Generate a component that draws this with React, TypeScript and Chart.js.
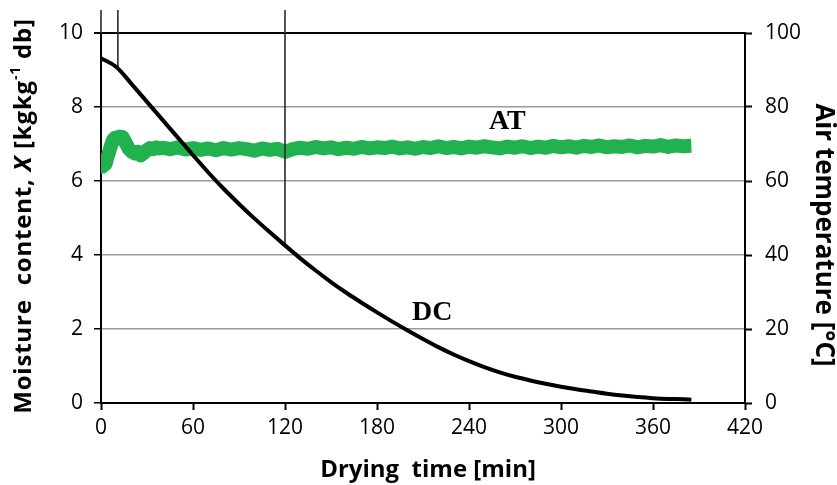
import React, { useEffect, useRef } from "react";
import { Chart, registerables } from "chart.js";
Chart.register(...registerables);

// Drying curve (moisture content, kg/kg db) vs time (min)
const dcTime = [0, 10, 20, 30, 40, 50, 60, 70, 80, 90, 100, 110, 120, 130, 140, 150, 160, 170, 180, 190, 200, 210, 220, 230, 240, 250, 260, 270, 280, 290, 300, 310, 320, 330, 340, 350, 360, 370, 380, 385];
const dcMoisture = [9.32, 9.08, 8.62, 8.14, 7.66, 7.18, 6.7, 6.23, 5.79, 5.38, 4.99, 4.62, 4.26, 3.91, 3.58, 3.27, 2.98, 2.71, 2.45, 2.2, 1.96, 1.73, 1.51, 1.31, 1.13, 0.97, 0.83, 0.71, 0.61, 0.52, 0.44, 0.37, 0.31, 0.25, 0.2, 0.16, 0.13, 0.11, 0.1, 0.09];

// Air temperature (°C) vs time (min)
const atTime = [0, 1, 2, 3, 4, 5, 6, 7, 8, 9, 10, 11, 12, 13, 14, 15, 16, 17, 18, 19, 20, 22, 24, 26, 28, 30, 32, 34, 36, 38, 40, 45, 50, 55, 60, 65, 70, 75, 80, 85, 90, 95, 100, 105, 110, 115, 120, 125, 130, 135, 140, 145, 150, 155, 160, 165, 170, 175, 180, 185, 190, 195, 200, 205, 210, 215, 220, 225, 230, 235, 240, 245, 250, 255, 260, 265, 270, 275, 280, 285, 290, 295, 300, 305, 310, 315, 320, 325, 330, 335, 340, 345, 350, 355, 360, 365, 370, 375, 380, 385];
const atTemp = [64.8, 63.9, 65.6, 64.6, 66.2, 67.4, 68.9, 70.1, 71.2, 71.6, 71.3, 71.8, 72.0, 71.6, 71.9, 71.2, 70.4, 69.6, 68.8, 68.3, 67.9, 67.4, 67.9, 66.9, 67.6, 68.4, 68.9, 68.6, 69.1, 68.8, 69.0, 68.6, 69.1, 68.5, 68.9, 68.4, 68.8, 68.3, 68.9, 68.5, 68.9, 68.6, 68.2, 68.8, 68.4, 68.7, 67.9, 68.6, 69.0, 68.7, 69.2, 68.8, 69.1, 68.6, 69.0, 68.7, 69.2, 68.8, 69.1, 68.9, 69.3, 68.8, 69.1, 68.7, 69.2, 68.9, 69.4, 68.9, 69.2, 68.8, 69.3, 69.0, 69.4, 69.1, 68.8, 69.3, 69.0, 69.4, 68.9, 69.3, 69.0, 69.5, 69.1, 69.4, 69.0, 69.5, 69.2, 69.6, 69.1, 69.4, 69.2, 69.6, 69.1, 69.5, 69.3, 69.7, 69.2, 69.6, 69.4, 69.5];

// Vertical marker lines (time, lower end in moisture units), all rising to dropTop
const dropTime = [0, 11, 120];
const dropFrom = [10, 9.05, 4.26];
const dropTop = 10.62;

// Curve labels
const labelText = ["AT", "DC"];
const labelTime = [265, 216];
const labelMoisture = [7.6, 2.43];

const xTitle = "Drying  time [min]";
const yRightTitle = "Air temperature [°C]";

const SANS = "'Open Sans', sans-serif";

const overlay = {
  id: "overlay",
  afterDraw(chart: any) {
    const ctx = chart.ctx as CanvasRenderingContext2D;
    const xs = chart.scales.x;
    const ys = chart.scales.y;
    const area = chart.chartArea;
    ctx.save();
    ctx.fillStyle = "#000";
    // curve labels
    ctx.font = "bold 28px 'Liberation Serif', serif";
    ctx.textAlign = "center";
    ctx.textBaseline = "middle";
    labelText.forEach((t, i) => {
      ctx.fillText(t, xs.getPixelForValue(labelTime[i]), ys.getPixelForValue(labelMoisture[i]));
    });

    // x title
    ctx.font = `bold 24px ${SANS}`;
    ctx.fillText(xTitle, (area.left + area.right) / 2 + 5, 470);

    // right title
    ctx.save();
    ctx.translate(823, (area.top + area.bottom) / 2 + 17);
    ctx.rotate(Math.PI / 2);
    ctx.font = `bold 26px ${SANS}`;
    ctx.fillText(yRightTitle, 0, 0);
    ctx.restore();

    // left title with italic X and superscript
    const bold = `bold 24px ${SANS}`;
    const segs = [
      { t: "Moisture  content, ", f: bold, dy: 0 },
      { t: "X", f: `italic bold 24px ${SANS}`, dy: 0 },
      { t: " [kgkg", f: bold, dy: 0 },
      { t: "-1", f: `bold 14px ${SANS}`, dy: -8 },
      { t: " db]", f: bold, dy: 0 },
    ];
    (ctx as any).letterSpacing = "0.8px";
    let total = 0;
    const widths = segs.map((s) => {
      ctx.font = s.f;
      const w = ctx.measureText(s.t).width;
      total += w;
      return w;
    });
    ctx.save();
    ctx.translate(24, (area.top + area.bottom) / 2 - 2);
    ctx.rotate(-Math.PI / 2);
    ctx.textAlign = "left";
    let x = -total / 2;
    segs.forEach((s, i) => {
      ctx.font = s.f;
      ctx.fillText(s.t, x, s.dy);
      x += widths[i];
    });
    ctx.restore();
    (ctx as any).letterSpacing = "0px";
    ctx.restore();
  },
};

export default function App() {
  const ref = useRef<HTMLCanvasElement>(null);
  useEffect(() => {
    if (!ref.current) return;
    const dropSets = dropTime.map((t, i) => ({
      type: "line" as const,
      data: [
        { x: t, y: dropFrom[i] },
        { x: t, y: dropTop },
      ],
      yAxisID: "y",
      borderColor: "#2a2a2a",
      borderWidth: 1.6,
      pointRadius: 0,
      clip: false as any,
      order: 1,
    }));
    const chart = new Chart(ref.current, {
      type: "line",
      data: {
        datasets: [
          {
            data: dcTime.map((t, i) => ({ x: t, y: dcMoisture[i] })),
            yAxisID: "y",
            borderColor: "#000",
            borderWidth: 4,
            pointRadius: 0,
            cubicInterpolationMode: "monotone",
            order: 0,
          },
          ...dropSets,
          {
            data: atTime.map((t, i) => ({ x: t, y: atTemp[i] })),
            yAxisID: "y2",
            borderColor: "#21b24f",
            borderWidth: 14,
            pointRadius: 0,
            tension: 0,
            borderJoinStyle: "round",
            order: 2,
          },
        ] as any,
      },
      options: {
        responsive: false,
        animation: false,
        layout: { padding: { top: 33, left: 0, right: 0, bottom: 0 } },
        plugins: { legend: { display: false }, tooltip: { enabled: false } },
        scales: {
          x: {
            type: "linear",
            min: 0,
            max: 420,
            ticks: { stepSize: 60, color: "#000", font: { family: SANS, size: 21 }, padding: 5, maxRotation: 0 },
            grid: { drawOnChartArea: false, drawTicks: true, tickLength: 7, tickColor: "#000", tickWidth: 2 },
            border: { color: "#000", width: 2 },
            afterFit: (s: any) => {
              s.height = 82;
            },
          },
          y: {
            position: "left",
            min: 0,
            max: 10,
            ticks: { stepSize: 2, color: "#000", font: { family: SANS, size: 21 }, padding: 11 },
            grid: {
              color: (c: any) => (c.tick && (c.tick.value === 10 || c.tick.value === 0) ? "#000" : "#9a9a9a"),
              lineWidth: (c: any) => (c.tick && c.tick.value === 10 ? 2 : 1.5),
              tickLength: 7,
              tickColor: "#000",
            },
            border: { color: "#000", width: 2 },
            afterFit: (s: any) => {
              s.width = 101;
            },
          },
          y2: {
            position: "right",
            min: 0,
            max: 100,
            ticks: { stepSize: 20, color: "#000", font: { family: SANS, size: 21 }, padding: 13 },
            grid: { drawOnChartArea: false, tickLength: 7, tickColor: "#000", tickWidth: 2 },
            border: { color: "#000", width: 2 },
            afterFit: (s: any) => {
              s.width = 92;
            },
          },
        },
      },
      plugins: [overlay],
    });
    return () => chart.destroy();
  }, []);
  return (
    <div style={{ position: "fixed", left: 0, top: 0, width: 837, height: 485, background: "#fff" }}>
      <canvas ref={ref} width={837} height={485} style={{ display: "block" }} />
    </div>
  );
}
